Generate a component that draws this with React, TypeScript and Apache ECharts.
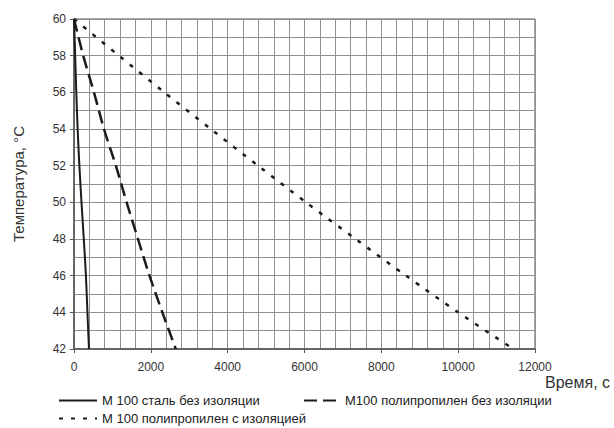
import React, { useEffect, useRef } from "react";
import * as echarts from "echarts";

// Temperatures (°C) at which the times are read
const temps = [60, 58, 56, 54, 52, 50, 48, 46, 44, 42];
// Time (s) to reach each temperature
const steelTimes = [0, 30, 60, 95, 140, 195, 255, 310, 350, 390];
const ppBareTimes = [0, 240, 520, 780, 1090, 1370, 1665, 1965, 2300, 2650];
const ppInsTimes = [0, 1170, 2350, 3560, 4790, 6040, 7330, 8640, 10000, 11440];

const seriesNames = [
  "М 100 сталь без изоляции",
  "М100 полипропилен без изоляции",
  "М 100 полипропилен с изоляцией",
];

const xTicks = { min: 0, max: 12000, step: 2000 };
const yTicks = { min: 42, max: 60, step: 2 };

const FONT = "'Liberation Sans', Arial, sans-serif";

export default function App() {
  const ref = useRef<HTMLDivElement>(null);
  useEffect(() => {
    if (!ref.current) return;
    const chart = echarts.init(ref.current, undefined, { renderer: "svg" });
    const toPairs = (times: number[]) => times.map((t, i) => [t, temps[i]]);
    const lineColor = "#1b1b1b";
    const gridColor = "#8f8f8f";
    const legendBase = {
      orient: "horizontal",
      padding: 0,
      itemWidth: 38,
      itemHeight: 10,
      itemGap: 0,
      itemStyle: { opacity: 0 },
      textStyle: { fontFamily: FONT, fontSize: 13, color: "#222" },
    };
    chart.setOption({
      animation: false,
      backgroundColor: "#ffffff",
      textStyle: { fontFamily: FONT },
      grid: {
        left: 74,
        right: 79,
        top: 19,
        bottom: 79,
        show: true,
        borderColor: "#555",
        borderWidth: 1,
      },
      xAxis: {
        type: "value",
        min: xTicks.min,
        max: xTicks.max,
        interval: xTicks.step,
        axisLine: { show: true, lineStyle: { color: "#555", width: 1.5 } },
        axisTick: { show: true, length: 4, lineStyle: { color: "#555" } },
        axisLabel: {
          fontFamily: FONT,
          fontSize: 12,
          color: "#333",
          margin: 12,
          formatter: (v: number) => String(v),
        },
        splitLine: { show: true, lineStyle: { color: gridColor, width: 1 } },
        minorTick: { show: false, splitNumber: 5 },
        minorSplitLine: { show: true, lineStyle: { color: gridColor, width: 1 } },
      },
      yAxis: {
        type: "value",
        min: yTicks.min,
        max: yTicks.max,
        interval: yTicks.step,
        name: "Температура, °C",
        nameLocation: "middle",
        nameGap: 48,
        nameTextStyle: { fontFamily: FONT, fontSize: 15, color: "#333" },
        axisLine: { show: true, lineStyle: { color: "#555", width: 1.5 } },
        axisTick: { show: true, length: 4, lineStyle: { color: "#555" } },
        axisLabel: { fontFamily: FONT, fontSize: 12, color: "#333", margin: 8 },
        splitLine: { show: true, lineStyle: { color: gridColor, width: 1 } },
        minorTick: { show: false, splitNumber: 2 },
        minorSplitLine: { show: true, lineStyle: { color: gridColor, width: 1 } },
      },
      legend: [
        { ...legendBase, data: [seriesNames[0]], left: 58, top: 394 },
        { ...legendBase, itemWidth: 36, data: [seriesNames[1]], left: 303, top: 394 },
        { ...legendBase, data: [seriesNames[2]], left: 58, top: 412 },
      ],
      graphic: [
        {
          type: "text",
          left: 545,
          top: 374,
          style: { text: "Время, с", font: `16px ${FONT}`, fill: "#333" },
        },
      ],
      series: [
        {
          name: seriesNames[0],
          type: "line",
          data: toPairs(steelTimes),
          smooth: 0.3,
          showSymbol: false,
          symbol: "none",
          lineStyle: { color: lineColor, width: 2, type: "solid" },
          itemStyle: { color: lineColor },
        },
        {
          name: seriesNames[1],
          type: "line",
          data: toPairs(ppBareTimes),
          smooth: 0.3,
          showSymbol: false,
          symbol: "none",
          lineStyle: { color: lineColor, width: 2.5, type: [13, 6] },
          itemStyle: { color: lineColor },
        },
        {
          name: seriesNames[2],
          type: "line",
          data: toPairs(ppInsTimes),
          smooth: 0.3,
          showSymbol: false,
          symbol: "none",
          lineStyle: { color: lineColor, width: 2.5, type: [4, 8] },
          itemStyle: { color: lineColor },
        },
      ],
    });
    return () => chart.dispose();
  }, []);
  return (
    <div
      ref={ref}
      style={{ position: "fixed", left: 0, top: 0, width: 614, height: 428, background: "#fff" }}
    />
  );
}
